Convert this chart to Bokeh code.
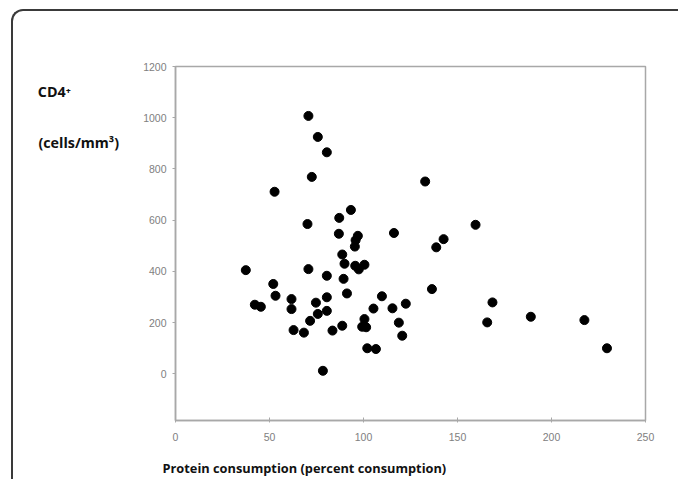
from bokeh.plotting import figure
from bokeh.models import Range1d, FixedTicker, Title
from bokeh.embed import file_html
from bokeh.resources import INLINE

# Data
protein = [70.7, 75.7, 80.5, 72.5, 52.7, 93.3, 87.1, 70.2, 86.9, 116.2,
           97.0, 95.8, 95.4, 88.7, 89.9, 95.6, 97.5, 100.5, 37.4, 70.7,
           80.5, 89.4, 52.0, 53.2, 91.2, 42.2, 45.4, 61.7, 61.7, 74.7,
           75.7, 71.6, 80.5, 80.5, 62.8, 68.3, 83.5, 88.7, 100.5, 99.3,
           101.4, 109.8, 105.3, 115.4, 122.5, 118.8, 120.6, 102.0, 106.6, 78.4,
           132.8, 159.6, 142.6, 138.7, 136.4, 168.6, 165.8, 189.0, 217.5, 229.5]
cd4 = [1007, 925, 865, 769, 711, 640, 609, 585, 547, 550,
       539, 522, 497, 466, 430, 422, 408, 426, 405, 409,
       383, 371, 351, 305, 314, 270, 262, 292, 253, 278,
       234, 207, 299, 246, 171, 161, 169, 188, 214, 184,
       182, 303, 255, 256, 274, 200, 149, 100, 97, 12,
       751, 582, 526, 494, 331, 279, 201, 223, 210, 100]
x_ticks = [0, 50, 100, 150, 200, 250]
y_ticks = [0, 200, 400, 600, 800, 1000, 1200]
x_title = "Protein consumption (percent consumption)"
y_title_1 = "CD4\u207a"
y_title_2 = "(cells/mm\u00b3)"

# page offset of the figure inside the rounded frame
OX, OY, BW = 11, 9, 2
FL, FR, FT, FB = 175, 645, 66, 420  # frame edges in page pixels

p = figure(frame_width=FR - FL, frame_height=FB - FT,
           output_backend="svg", toolbar_location=None,
           x_range=Range1d(0, 250), y_range=Range1d(-182, 1200),
           min_border_left=FL - OX - BW, min_border_right=678 - FR,
           min_border_top=FT - OY - BW, min_border_bottom=479 - FB)
p.styles = {"margin-left": f"{OX}px", "margin-top": f"{OY}px",
            "border-left": f"{BW}px solid #3a3a3a", "border-top": f"{BW}px solid #3a3a3a",
            "border-top-left-radius": "12px"}
p.background_fill_alpha = 0
p.border_fill_alpha = 0
p.outline_line_color = "#a8a8a8"
p.outline_line_width = 1.5
p.xgrid.visible = False
p.ygrid.visible = False

for ax in (p.xaxis[0], p.yaxis[0]):
    ax.axis_line_color = "#a8a8a8"
    ax.axis_line_width = 1.5
    ax.major_tick_line_color = "#a8a8a8"
    ax.minor_tick_line_color = None
    ax.major_label_text_color = "#808080"
    ax.major_label_text_font = "Liberation Sans"
    ax.major_label_text_font_size = "10.5px"

p.xaxis.ticker = FixedTicker(ticks=x_ticks)
p.yaxis.ticker = FixedTicker(ticks=y_ticks)
p.xaxis.major_tick_in = 3
p.xaxis.major_tick_out = 2
p.yaxis.major_tick_in = 0
p.yaxis.major_tick_out = 3
p.xaxis.major_label_standoff = 10
p.yaxis.major_label_standoff = 6

p.scatter(protein, cd4, size=9, color="black", line_color="black")

# y title: horizontal, two lines near the top of the left margin
pad = "\u00a0" * 13
p.yaxis.axis_label = "\n".join([y_title_1 + pad, "", "", y_title_2] + [""] * 15)
p.yaxis.axis_label_orientation = "horizontal"
p.yaxis.axis_label_standoff = 21
p.yaxis.axis_label_text_font = "Open Sans"
p.yaxis.axis_label_text_font_style = "bold"
p.yaxis.axis_label_text_font_size = "14.3px"
p.yaxis.axis_label_text_color = "#111111"
p.yaxis.axis_label_text_line_height = 0.886

p.add_layout(Title(text=x_title, align="left", offset=-13, standoff=26,
                   text_font="Open Sans", text_font_style="bold",
                   text_font_size="12.8px", text_color="#111111"), "below")

open("out.html", "w").write(file_html(p, INLINE))
